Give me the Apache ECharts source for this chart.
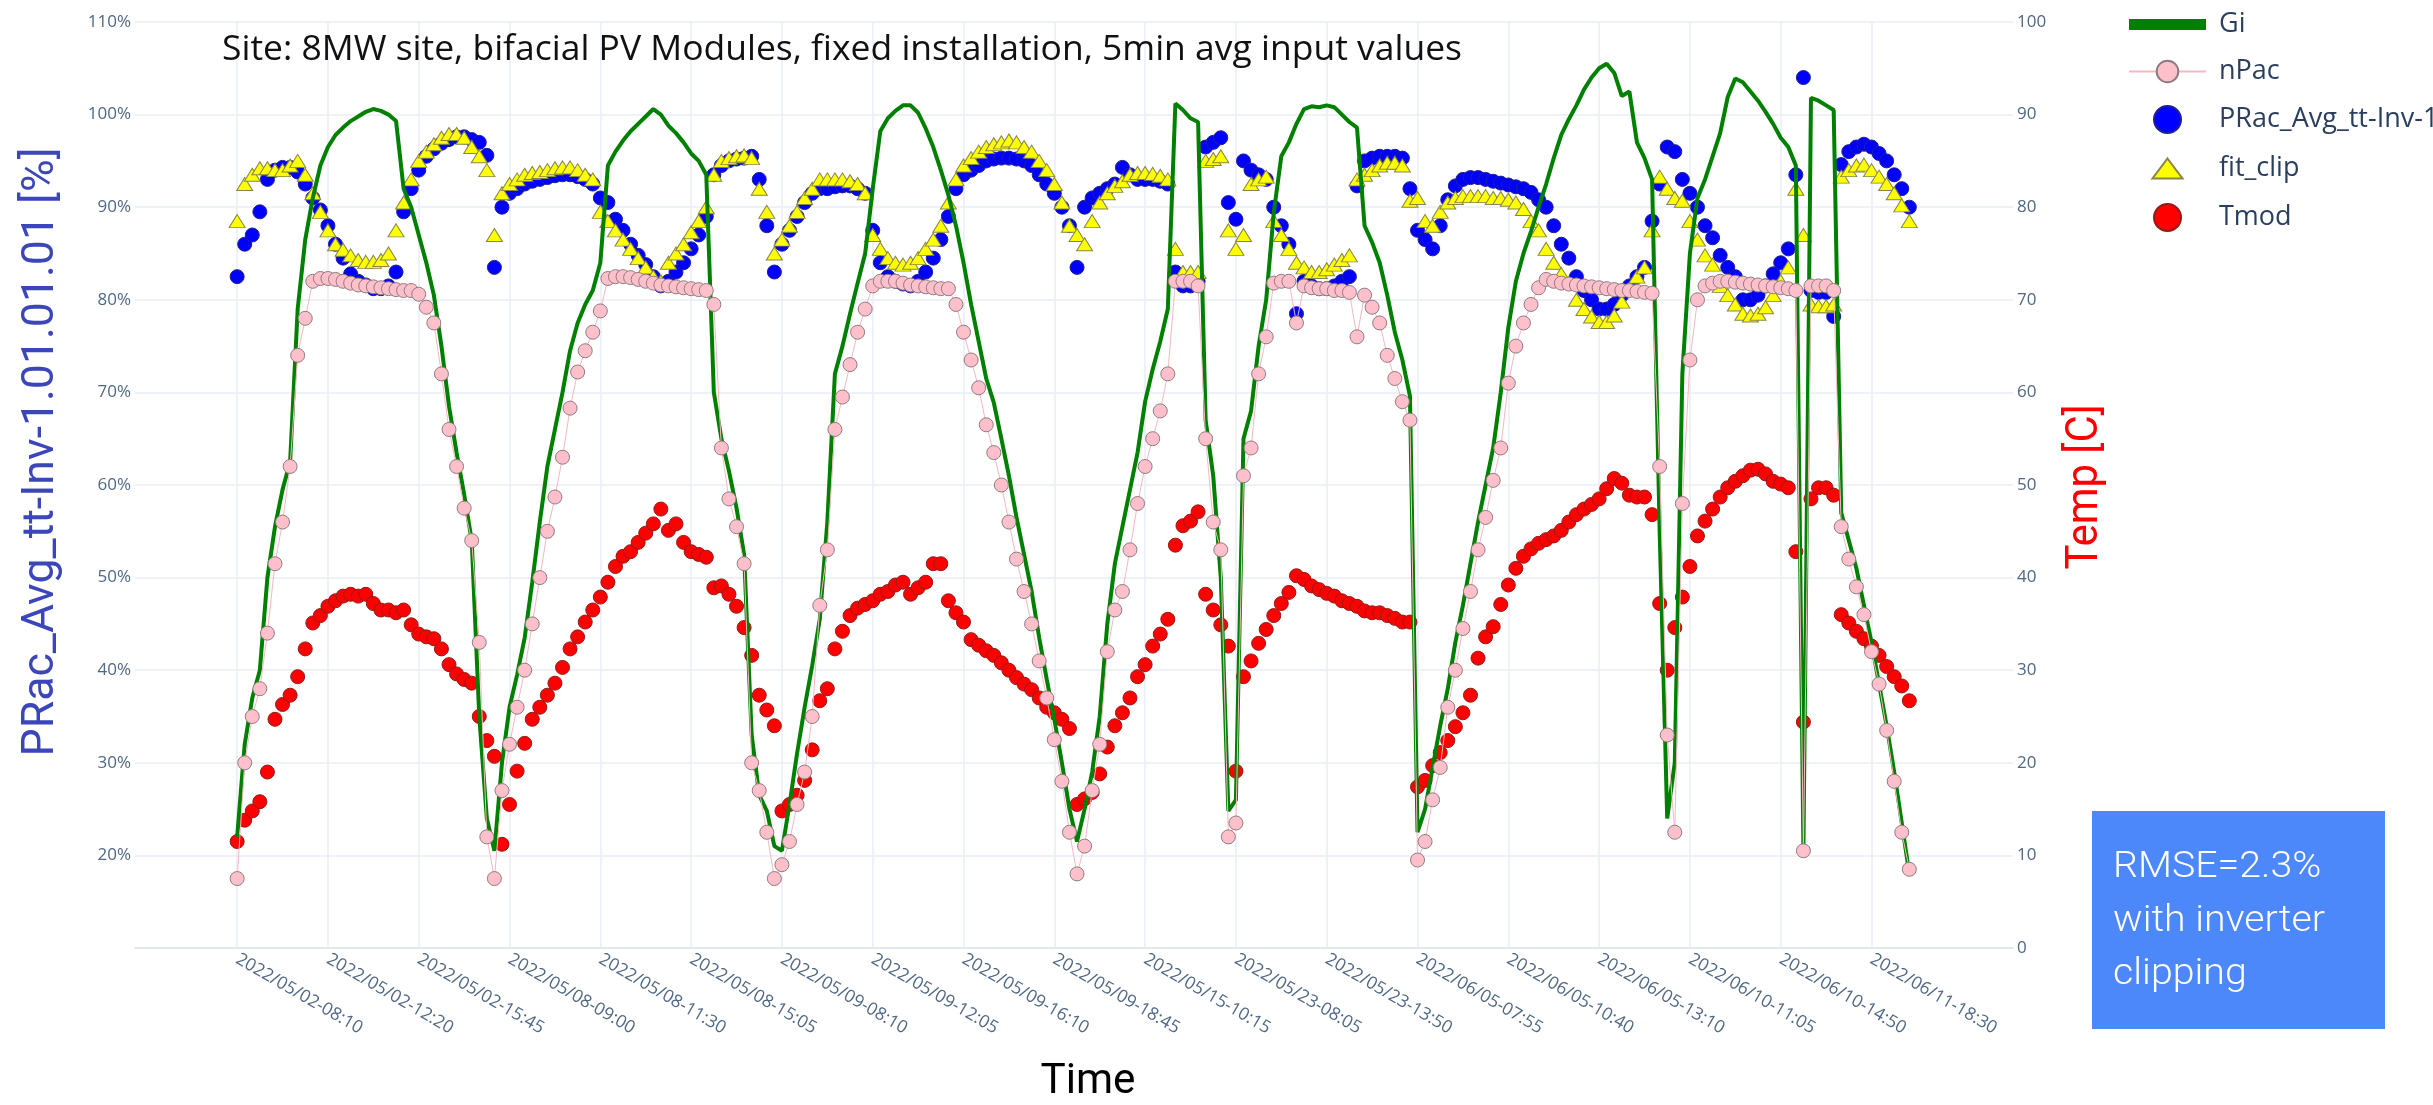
<!DOCTYPE html>
<html>
<head>
<meta charset="utf-8">
<title>PRac fit with inverter clipping</title>
<script src="https://cdn.jsdelivr.net/npm/echarts@6/dist/echarts.min.js"></script>
<style>
  html, body { margin: 0; padding: 0; background: #ffffff; }
  #chart { width: 2433px; height: 1105px; }
</style>
</head>
<body>
<div id="chart"></div>
<script>
// Timestamps shown on the x axis; one labelled tick every STEP samples
const tickLabels = [
  '2022/05/02-08:10', '2022/05/02-12:20', '2022/05/02-15:45', '2022/05/08-09:00',
  '2022/05/08-11:30', '2022/05/08-15:05', '2022/05/09-08:10', '2022/05/09-12:05',
  '2022/05/09-16:10', '2022/05/09-18:45', '2022/05/15-10:15', '2022/05/23-08:05',
  '2022/05/23-13:50', '2022/06/05-07:55', '2022/06/05-10:40', '2022/06/05-13:10',
  '2022/06/10-11:05', '2022/06/10-14:50', '2022/06/11-18:30'
];
const STEP = 12;

// Plane-of-array irradiance, normalised [%]
const gi = [
  22, 32, 37, 40, 50, 55.5, 59.5, 62.5, 79, 86.5, 91, 94.5,
  96.5, 97.8, 98.6, 99.3, 99.8, 100.3, 100.6, 100.4, 100, 99.3, 92, 90,
  87, 84, 80.5, 75, 68.5, 63.5, 59, 54, 35, 24, 20.5, 30,
  36, 39.5, 43.5, 49.5, 56, 62, 66, 70, 74.5, 77.5, 79.5, 81,
  84, 94.5, 96, 97.2, 98.2, 99, 99.8, 100.6, 100, 98.8, 98, 97,
  95.8, 95, 93.5, 70, 65, 61.5, 57.5, 52.5, 33, 26.5, 24.8, 21,
  20.5, 25.5, 31, 36, 40.5, 45.5, 56, 72, 75, 78.5, 81.8, 85,
  92, 98.2, 99.6, 100.4, 101, 101, 100.2, 98.5, 96.5, 94, 91.3, 88,
  84, 79.5, 75.5, 71.5, 68.9, 65, 61, 56.5, 52.5, 48.5, 43.5, 39,
  34.7, 30, 25, 21.5, 25, 29, 35, 45, 51.5, 55.5, 59.5, 63.5,
  69, 72.5, 75.5, 79, 101.2, 100.5, 99.6, 99.2, 67, 61, 50, 24.8,
  26, 65, 68, 75, 80, 89.4, 95.5, 97, 99, 100.6, 100.9, 100.8,
  101, 100.8, 100, 99.2, 98.6, 88, 86.2, 84, 80.5, 76.5, 73.5, 69.6,
  22.5, 25, 29.5, 34, 38, 43, 47, 51.5, 56, 60, 64, 70,
  77, 82, 85, 87.4, 90, 92.5, 95.3, 97.8, 99.5, 101, 102.7, 104,
  105, 105.5, 104.5, 102, 102.5, 97, 95.3, 93, 55, 24, 30, 72,
  85, 91, 93, 95.5, 98, 101.9, 103.9, 103.5, 102.5, 101.5, 100.3, 99,
  97.5, 96.5, 94.5, 20.5, 101.8, 101.5, 101, 100.5, 57, 54, 51, 47,
  43, 38.5, 34, 29, 23.5, 18
];

// Normalised AC power [%]
const nPac = [
  17.5, 30, 35, 38, 44, 51.5, 56, 62, 74, 78, 82, 82.3,
  82.3, 82.2, 82, 81.8, 81.6, 81.5, 81.4, 81.3, 81.2, 81.1, 81, 81,
  80.6, 79.2, 77.5, 72, 66, 62, 57.5, 54, 43, 22, 17.5, 27,
  32, 36, 40, 45, 50, 55, 58.7, 63, 68.3, 72.2, 74.5, 76.5,
  78.8, 82.3, 82.5, 82.5, 82.4, 82.2, 82, 81.8, 81.6, 81.5, 81.4, 81.3,
  81.2, 81.1, 81, 79.5, 64, 58.5, 55.5, 51.5, 30, 27, 22.5, 17.5,
  19, 21.5, 25.5, 29, 35, 47, 53, 66, 69.5, 73, 76.5, 79,
  81.5, 82, 82, 82, 81.8, 81.6, 81.5, 81.4, 81.3, 81.2, 81.2, 79.5,
  76.5, 73.5, 70.5, 66.5, 63.5, 60, 56, 52, 48.5, 45, 41, 37,
  32.5, 28, 22.5, 18, 21, 27, 32, 42, 46.5, 48.5, 53, 58,
  62, 65, 68, 72, 82, 82, 82, 81.5, 65, 56, 53, 22,
  23.5, 61, 64, 72, 76, 81.8, 82, 82, 77.5, 81.5, 81.3, 81.2,
  81.2, 81, 81, 80.8, 76, 80.5, 79.2, 77.5, 74, 71.5, 69, 67,
  19.5, 21.5, 26, 29.5, 36, 40, 44.5, 48.5, 53, 56.5, 60.5, 64,
  71, 75, 77.5, 79.5, 81.3, 82.2, 82, 81.8, 81.7, 81.6, 81.5, 81.4,
  81.3, 81.2, 81.1, 81, 81, 80.9, 80.8, 80.7, 62, 33, 22.5, 58,
  73.5, 80, 81.5, 81.8, 82, 82, 81.9, 81.8, 81.7, 81.6, 81.5, 81.4,
  81.3, 81.2, 81, 20.5, 81.5, 81.5, 81.5, 81, 55.5, 52, 49, 46,
  42, 38.5, 33.5, 28, 22.5, 18.5
];

// Measured performance ratio of inverter 1.01.01.01 [%]
const prAc = [
  82.5, 86, 87, 89.5, 93, 94, 94.3, 94.3, 93.8, 92.5, 91, 89.7,
  88, 86, 84.5, 82.8, 82, 81.6, 81.2, 81.2, 81.5, 83, 89.5, 92,
  94, 95.5, 96.3, 96.9, 97.3, 97.6, 97.6, 97.3, 97, 95.6, 83.5, 90,
  91.5, 92, 92.5, 92.8, 93, 93.2, 93.4, 93.5, 93.5, 93.3, 93, 92.5,
  91, 90.5, 88.7, 87.5, 86, 84.8, 83.8, 82.5, 81.5, 82, 83, 84,
  85.5, 87, 89, 93.5, 94.5, 95, 95.2, 95.3, 95.5, 93, 88, 83,
  86, 87.5, 89, 90.5, 91.5, 92, 92, 92.2, 92.3, 92.3, 92, 91.5,
  87.5, 84, 82.5, 82, 81.7, 81.5, 82, 83, 84.5, 86.5, 89, 92,
  93.5, 94, 94.5, 95, 95.2, 95.3, 95.3, 95.2, 95, 94.5, 93.5, 92.5,
  91.5, 90, 88, 83.5, 90, 91, 91.5, 92, 92.5, 94.3, 93.5, 93,
  93, 93, 92.8, 92.5, 83, 81.5, 81.5, 82, 96.5, 97, 97.5, 90.5,
  88.7, 95, 94, 93.5, 93, 90, 88, 86, 78.5, 82, 81.5, 81.2,
  81.2, 81.5, 82, 82.5, 92.3, 95, 95.3, 95.5, 95.5, 95.5, 95.3, 92,
  87.5, 86.5, 85.5, 88, 90.8, 92.3, 93, 93.2, 93.2, 93, 92.8, 92.6,
  92.4, 92.2, 92, 91.6, 90.8, 90, 88, 86, 84.5, 82.5, 81, 80,
  79, 79, 79.5, 80.5, 81.5, 82.5, 83.5, 88.5, 92.5, 96.5, 96, 93,
  91.5, 90, 88, 86.7, 84.8, 83.5, 82.5, 80, 80, 80.5, 81.5, 82.8,
  84, 85.5, 93.5, 104, 81, 80.8, 80.8, 78.2, 94.6, 96, 96.5, 96.8,
  96.5, 95.8, 95, 93.5, 92, 90
];

// Modelled PR including inverter clipping [%]
const fitClip = [
  88.5, 92.5, 93.5, 94.2, 94.2, 94, 94, 94.5, 95, 93.5, 91.5, 89.5,
  87.5, 86, 85.4, 84.8, 84.3, 84.1, 84.1, 84.3, 85, 87.5, 90.5, 93,
  95, 96, 96.8, 97.5, 97.9, 97.9, 97.5, 96.5, 95.5, 94, 87, 91.5,
  92.5, 93, 93.5, 93.7, 93.8, 94, 94.2, 94.3, 94.3, 94, 93.5, 93,
  89.5, 88.5, 87.5, 86.5, 85.5, 84.5, 83.5, 82.5, 82, 84, 85, 86,
  87.3, 88.5, 90, 93.5, 95, 95.3, 95.5, 95.6, 95.3, 92, 89.5, 85,
  86.5, 88, 89.5, 91, 92, 93, 93, 93, 93, 92.8, 92.5, 91.5,
  87, 85.5, 84.5, 84, 83.8, 84, 84.5, 85.5, 86.5, 88, 90.5, 93,
  94.5, 95.3, 96, 96.5, 96.8, 97, 97.2, 97, 96.5, 96, 95, 94,
  92.5, 90.5, 88, 87, 86, 88.5, 90.5, 91.5, 92.3, 92.8, 93.5, 93.7,
  93.7, 93.6, 93.4, 93, 85.5, 83, 83, 83, 95, 95.2, 95.5, 87.5,
  85.5, 87, 92.5, 93, 93.3, 88.5, 87, 85.5, 84, 83.5, 83, 83,
  83.3, 83.8, 84.3, 84.8, 93, 93.5, 94, 94.5, 94.8, 94.8, 94.5, 90.7,
  91, 88.5, 88, 89.5, 90.5, 91, 91.2, 91.2, 91.2, 91.2, 91, 91,
  90.8, 90.5, 89.8, 88.5, 87.5, 85.5, 84, 82.8, 81.8, 80, 79, 78.2,
  77.6, 77.6, 78.3, 79.8, 81.2, 82.5, 83.5, 87.5, 93.3, 92, 91, 90.7,
  88.5, 86.5, 84.8, 83.8, 81.5, 80.5, 79.5, 78.5, 78.3, 78.5, 79.2, 80.5,
  82, 83.5, 92, 87, 79.5, 79.3, 79.3, 79.5, 93.3, 94, 94.5, 94.6,
  94, 93.3, 92.5, 91.5, 90.2, 88.5
];

// Module temperature [°C]
const tMod = [
  11.5, 13.8, 14.8, 15.8, 19, 24.7, 26.3, 27.3, 29.3, 32.3, 35.1, 35.9,
  36.9, 37.5, 38, 38.2, 38, 38.2, 37.2, 36.5, 36.5, 36.2, 36.5, 34.9,
  33.9, 33.6, 33.4, 32.3, 30.6, 29.6, 29, 28.6, 25, 22.4, 20.7, 11.2,
  15.5, 19.1, 22.1, 24.7, 26, 27.3, 28.6, 30.3, 32.3, 33.6, 35.2, 36.5,
  37.9, 39.5, 41.2, 42.3, 42.8, 43.8, 44.8, 45.8, 47.4, 45.1, 45.8, 43.8,
  42.8, 42.5, 42.2, 38.9, 39.1, 38.2, 36.9, 34.6, 31.6, 27.3, 25.7, 24,
  14.8, 15.5, 16.5, 18.1, 21.4, 26.7, 28, 32.3, 34.2, 35.9, 36.7, 37.1,
  37.5, 38.2, 38.5, 39.2, 39.5, 38.2, 38.9, 39.5, 41.5, 41.5, 37.5, 36.2,
  35.2, 33.3, 32.7, 32.1, 31.6, 30.8, 30, 29.2, 28.5, 27.9, 27, 26,
  25.4, 24.7, 23.7, 15.5, 16.1, 16.8, 18.8, 21.7, 24, 25.4, 27, 29.3,
  30.6, 32.6, 33.9, 35.5, 43.5, 45.6, 46.1, 47.1, 38.2, 36.5, 34.9, 32.6,
  19.1, 29.3, 31, 32.9, 34.4, 35.9, 37.2, 38.4, 40.2, 39.8, 39.1, 38.7,
  38.3, 38, 37.5, 37.2, 36.9, 36.4, 36.2, 36.2, 35.9, 35.6, 35.2, 35.2,
  17.4, 18.1, 19.7, 21.1, 22.4, 23.9, 25.4, 27.3, 31.3, 33.6, 34.7, 37.1,
  39.2, 41, 42.3, 43.1, 43.7, 44.1, 44.5, 45.1, 46, 46.8, 47.4, 47.9,
  48.5, 49.6, 50.7, 50.2, 48.9, 48.7, 48.7, 46.8, 37.2, 30, 34.6, 37.9,
  41.2, 44.5, 46.1, 47.4, 48.7, 49.7, 50.4, 51, 51.6, 51.7, 51.2, 50.4,
  50.1, 49.7, 42.8, 24.4, 48.5, 49.7, 49.7, 48.9, 36, 35.1, 34.2, 33.4,
  32.6, 31.6, 30.4, 29.3, 28.3, 26.7
];

const TITLE = 'Site: 8MW site, bifacial PV Modules, fixed installation, 5min avg input values';
const PR_NAME = 'PRac_Avg_tt-Inv-1.01.01.01';
const LEFT_NAME = 'PRac_Avg_tt-Inv-1.01.01.01 [%]';
const RIGHT_NAME = 'Temp [C]';
const X_NAME = 'Time';
const NOTE_LINES = ['RMSE=2.3%', 'with inverter', 'clipping'];

// text measuring, used to size the free-standing labels
const measureCtx = document.createElement('canvas').getContext('2d');
function textWidth(text, size, family, weight) {
  measureCtx.font = (weight || 'normal') + ' ' + size + 'px ' + family;
  return measureCtx.measureText(text).width;
}

const toPoints = arr => arr.map((v, i) => [i, v]);
const tickValues = tickLabels.map((_, j) => j * STEP);

const titleSize = 30 * 1240 / textWidth(TITLE, 30, '"Open Sans"');
const condensed = '"Roboto"';
const leftScale = 609 / textWidth(LEFT_NAME, 44, condensed);
const rightScale = 165 / textWidth(RIGHT_NAME, 44, condensed);
const timeScale = 95 / textWidth(X_NAME, 42, condensed);
const noteScale = 212 / textWidth(NOTE_LINES[1], 36, condensed, 300);

// legend icons: a thick bar for the irradiance line and a flat triangle,
// both padded to the full item height so they keep their own proportions
const BAR_ICON = 'path://M0,0M0,27M0,8H77V19H0Z';
const TRIANGLE_ICON = 'path://M0,0M0,27M15,3.5L30,23.5L0,23.5Z';

const tickColor = '#506784';
const gridColor = '#e9eef6';

const chart = echarts.init(document.getElementById('chart'), null, { renderer: 'canvas' });
chart.setOption({
  animation: false,
  backgroundColor: '#ffffff',
  grid: { left: 135, right: 420, top: 22, bottom: 157, containLabel: false },
  legend: {
    orient: 'vertical',
    left: 2123,
    top: 6,
    itemWidth: 77,
    itemHeight: 27,
    itemGap: 20,
    textStyle: { fontSize: 27, color: '#2a3f5f', fontFamily: '"Open Sans"', padding: [0, 0, 0, 8] },
    data: [
      { name: 'Gi', icon: BAR_ICON },
      'nPac',
      PR_NAME,
      { name: 'fit_clip', icon: TRIANGLE_ICON },
      'Tmod'
    ]
  },
  xAxis: {
    type: 'value',
    min: -13.5,
    max: 234.7,
    axisLine: { show: true, lineStyle: { color: '#e2e8f0', width: 2 } },
    axisTick: { show: false, customValues: tickValues },
    splitLine: { show: true, lineStyle: { color: gridColor, width: 1.5 } },
    axisLabel: {
      customValues: tickValues,
      rotate: -30,
      margin: 10,
      fontSize: 17.5,
      fontFamily: '"Open Sans"',
      color: tickColor,
      formatter: v => tickLabels[Math.round(v / STEP)] || ''
    }
  },
  yAxis: [
    {
      type: 'value',
      min: 10,
      max: 110,
      interval: 10,
      axisLine: { show: false },
      axisTick: { show: false },
      splitLine: { show: true, lineStyle: { color: gridColor, width: 1.5 } },
      axisLabel: {
        showMinLabel: false,
        margin: 4,
        fontSize: 17,
        fontFamily: '"Open Sans"',
        color: tickColor,
        formatter: '{value}%'
      }
    },
    {
      type: 'value',
      position: 'right',
      min: 0,
      max: 100,
      interval: 10,
      axisLine: { show: false },
      axisTick: { show: false },
      splitLine: { show: false },
      axisLabel: { margin: 4, fontSize: 17, fontFamily: '"Open Sans"', color: tickColor }
    }
  ],
  series: [
    {
      name: 'Gi',
      type: 'line',
      data: toPoints(gi),
      symbol: 'none',
      showSymbol: false,
      lineStyle: { color: '#008000', width: 4 },
      itemStyle: { color: '#008000' }
    },
    {
      name: 'nPac',
      type: 'line',
      data: toPoints(nPac),
      symbol: 'circle',
      symbolSize: 14,
      showAllSymbol: true,
      lineStyle: { color: '#f4b8c2', width: 1 },
      itemStyle: { color: '#ffc0cb', borderColor: '#8e7c80', borderWidth: 1 }
    },
    {
      name: PR_NAME,
      type: 'scatter',
      data: toPoints(prAc),
      symbol: 'circle',
      symbolSize: 14,
      itemStyle: { color: '#0000ff', borderColor: '#20208f', borderWidth: 1, opacity: 1 }
    },
    {
      name: 'fit_clip',
      type: 'scatter',
      data: toPoints(fitClip),
      symbol: 'triangle',
      symbolSize: [16, 13],
      itemStyle: { color: '#ffff00', borderColor: '#86864a', borderWidth: 1, opacity: 1 }
    },
    {
      name: 'Tmod',
      type: 'scatter',
      yAxisIndex: 1,
      data: toPoints(tMod),
      symbol: 'circle',
      symbolSize: 14,
      itemStyle: { color: '#ff0000', borderColor: '#8f1d1d', borderWidth: 1, opacity: 1 }
    }
  ],
  graphic: [
    {
      type: 'text', x: 222, y: 50, z: 10,
      style: { text: TITLE, fontSize: titleSize, fontFamily: '"Open Sans"', fill: '#111111', verticalAlign: 'middle' }
    },
    {
      type: 'text', x: 42, y: 452, rotation: Math.PI / 2, scaleX: leftScale,
      style: { text: LEFT_NAME, fontSize: 44, fontFamily: condensed, fill: '#3b46b8', align: 'center', verticalAlign: 'middle' }
    },
    {
      type: 'text', x: 2086, y: 487, rotation: Math.PI / 2, scaleX: rightScale,
      style: { text: RIGHT_NAME, fontSize: 44, fontFamily: condensed, fill: '#ff0000', align: 'center', verticalAlign: 'middle' }
    },
    {
      type: 'text', x: 1088, y: 1082, scaleX: timeScale,
      style: { text: X_NAME, fontSize: 42, fontFamily: condensed, fill: '#000000', align: 'center', verticalAlign: 'middle' }
    },
    {
      type: 'rect', shape: { x: 2092, y: 811, width: 293, height: 218 },
      style: { fill: '#4d88fa' }
    },
    {
      type: 'text', x: 2113, y: 868, scaleX: noteScale,
      style: { text: NOTE_LINES[0], fontSize: 36, fontWeight: 300, fontFamily: condensed, fill: '#ffffff', verticalAlign: 'middle' }
    },
    {
      type: 'text', x: 2113, y: 922, scaleX: noteScale,
      style: { text: NOTE_LINES[1], fontSize: 36, fontWeight: 300, fontFamily: condensed, fill: '#ffffff', verticalAlign: 'middle' }
    },
    {
      type: 'text', x: 2113, y: 975, scaleX: noteScale,
      style: { text: NOTE_LINES[2], fontSize: 36, fontWeight: 300, fontFamily: condensed, fill: '#ffffff', verticalAlign: 'middle' }
    }
  ]
});
</script>
</body>
</html>
